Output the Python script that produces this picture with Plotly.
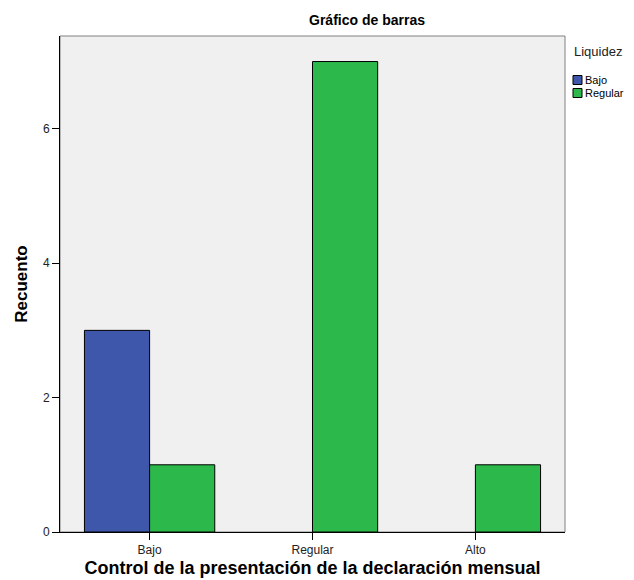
import plotly.graph_objects as go

categories = ["Bajo", "Regular", "Alto"]
series_names = ["Bajo", "Regular"]
bajo_counts = [3, None, None]
regular_counts = [1, 7, 1]
y_ticks = [0, 2, 4, 6]
legend_title = "Liquidez"

colors = {"Bajo": "#3E57AA", "Regular": "#2DB84B"}
FONT = "Liberation Sans, Arial, sans-serif"

# page body adds an 8px offset; compensate so the plot lands where the reference has it
W, H = 626, 572
ML, MR, MT, MB = 52, 69, 28, 48
PLOT_L, PLOT_T = 60, 36          # screen coordinates of plot area top-left
PLOT_W, PLOT_H = 505, 496


def px_x(sx):
    return (sx - PLOT_L) / PLOT_W


def px_y(sy):
    return (PLOT_T + PLOT_H - sy) / PLOT_H


fig = go.Figure()
for name, vals in zip(series_names, [bajo_counts, regular_counts]):
    fig.add_trace(go.Bar(
        x=categories, y=vals, name=name,
        marker=dict(color=colors[name], line=dict(color="#000000", width=1)),
    ))

# legend drawn in the reference style (small swatch right next to label)
shapes = [dict(type="rect", xref="paper", yref="paper", x0=0, x1=1, y0=0, y1=1,
               line=dict(color="#808080", width=1), layer="below")]
annotations = [dict(text=legend_title, xref="paper", yref="paper", x=px_x(572), y=px_y(51),
                    xanchor="left", yanchor="middle", showarrow=False,
                    font=dict(size=13, color="#222222", family=FONT))]
for i, name in enumerate(series_names):
    cy = 80 + i * 13
    shapes.append(dict(type="rect", xref="paper", yref="paper",
                       x0=px_x(573), x1=px_x(582), y0=px_y(cy + 4.5), y1=px_y(cy - 4.5),
                       fillcolor=colors[name], line=dict(color="#000000", width=1)))
    annotations.append(dict(text=name, xref="paper", yref="paper", x=px_x(583), y=px_y(cy),
                            xanchor="left", yanchor="middle", showarrow=False,
                            font=dict(size=11, color="#000000", family=FONT)))

fig.update_layout(
    width=W, height=H,
    margin=dict(l=ML, r=MR, t=MT, b=MB, autoexpand=False),
    paper_bgcolor="white", plot_bgcolor="#F0F0F0",
    barmode="group", bargap=0.2, bargroupgap=0,
    font=dict(family=FONT, color="#222222"),
    title=dict(text="<b>Gráfico de barras</b>", x=(367 - 8) / W, xref="container", xanchor="center",
               y=1 - (20 - 8) / H, yref="container", yanchor="middle",
               font=dict(size=14, color="#000000", family=FONT)),
    showlegend=False,
    xaxis=dict(range=[-0.55, 2.55], showline=True, linecolor="#000000", linewidth=1,
               ticks="outside", ticklen=7, tickcolor="#000000", showgrid=False, automargin=False,
               tickfont=dict(size=12, color="#222222"),
               title=dict(text="<b>Control de la presentación de la declaración mensual</b>",
                          font=dict(size=18, color="#000000"), standoff=4)),
    yaxis=dict(range=[0, 7.38], tickvals=y_ticks, showline=True, linecolor="#000000", linewidth=1,
               ticks="outside", ticklen=7, tickcolor="#000000", showgrid=False, zeroline=False,
               automargin=False,
               tickfont=dict(size=12, color="#222222"),
               title=dict(text="<b>Recuento</b>", font=dict(size=17, color="#000000"), standoff=10)),
    shapes=shapes,
    annotations=annotations,
)

fig.write_html("out.html")
